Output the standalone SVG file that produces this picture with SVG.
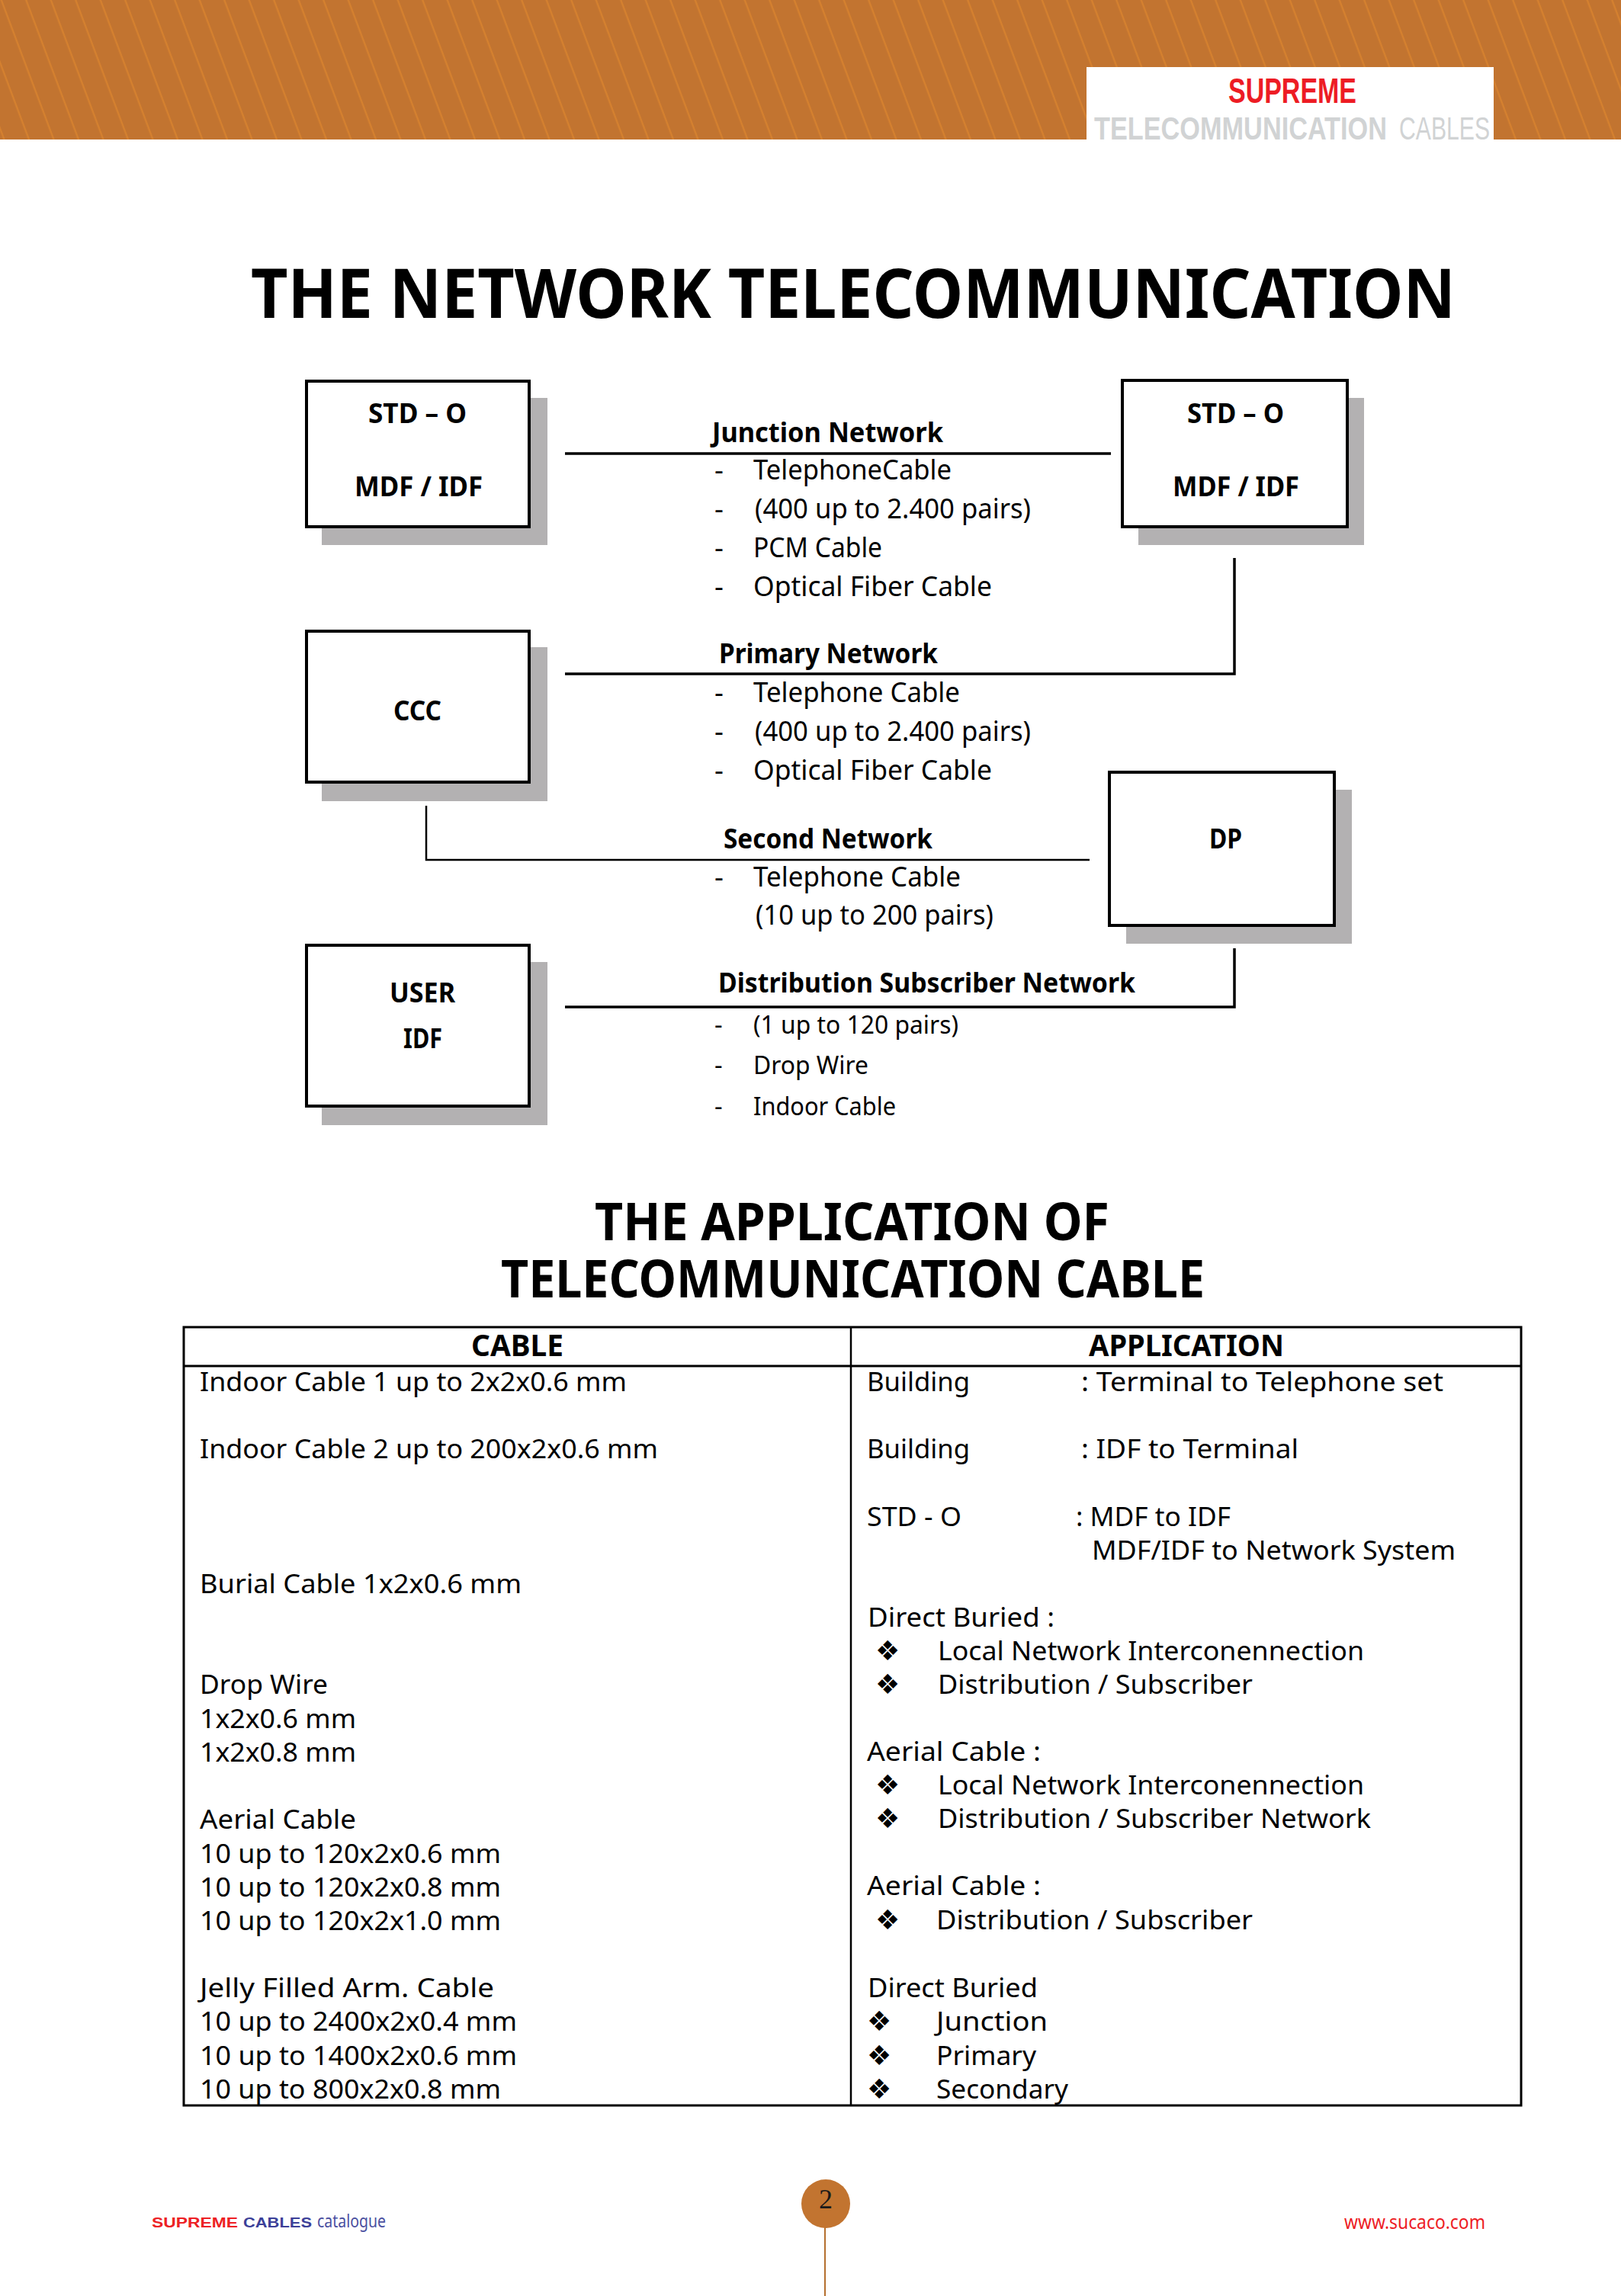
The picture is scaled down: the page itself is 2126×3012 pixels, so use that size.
<svg xmlns="http://www.w3.org/2000/svg" width="2126" height="3012" viewBox="0 0 2126 3012">
<style>
text{font-family:"Noto Sans","Open Sans","DejaVu Sans",sans-serif;fill:#000;white-space:pre}
.h{font-size:90px;font-weight:700}
.h2{font-size:68px;font-weight:700}
.b{font-size:36px;font-weight:700}
.t{font-size:37px}
.s{font-size:33px}
.tt{font-size:34px}
.c{font-size:40px;font-weight:700}
.bl{font-family:"DejaVu Sans",sans-serif;font-size:36px}
.hd{font-family:"Liberation Sans",sans-serif;font-size:43px;fill:#d1d3d4}
.box{fill:#fff;stroke:#000;stroke-width:4}
.sh{fill:#b3b1b2}
.ln{fill:none;stroke:#000;stroke-width:3.5}
.ln2{fill:none;stroke:#000;stroke-width:2.5}
.tb{fill:none;stroke:#000;stroke-width:3}
</style>
<defs>
<pattern id="st" width="32.5" height="183" patternUnits="userSpaceOnUse" patternTransform="skewX(20.6)">
<rect width="32.5" height="183" fill="#c27430"/><rect x="0.5" width="2.4" height="183" fill="#d5812f"/>
</pattern>
</defs>
<g id="header">
<rect width="2126" height="183" fill="url(#st)"/>
<rect x="1425" y="88" width="534" height="95" fill="#fff"/>
<text x="1611" y="135" textLength="168" lengthAdjust="spacingAndGlyphs" style="font-family:'Liberation Sans',sans-serif;font-size:46px;font-weight:700;fill:#ed1c24">SUPREME</text>
<text class="hd" x="1435" y="183" textLength="384" lengthAdjust="spacingAndGlyphs" style="font-weight:700">TELECOMMUNICATION</text>
<text class="hd" x="1835" y="183" textLength="119" lengthAdjust="spacingAndGlyphs">CABLES</text>
</g>
<text class="h" x="329" y="417" textLength="1580" lengthAdjust="spacingAndGlyphs">THE NETWORK TELECOMMUNICATION</text>
<g id="connectors">
<path class="ln" d="M741 595H1457"/>
<path class="ln" d="M741 884H1619V732"/>
<path class="ln2" d="M559 1057V1128H1429"/>
<path class="ln" d="M741 1321H1619V1244"/>
</g>
<g id="node-std-o-left">
<rect class="sh" x="422" y="522" width="296" height="193"/>
<rect class="box" x="402" y="500" width="292" height="191"/>
<text class="b" x="483" y="555" textLength="129" lengthAdjust="spacingAndGlyphs">STD – O</text>
<text class="b" x="465" y="651" textLength="168" lengthAdjust="spacingAndGlyphs">MDF / IDF</text>
</g>
<g id="node-std-o-right">
<rect class="sh" x="1493" y="522" width="296" height="193"/>
<rect class="box" x="1472" y="499" width="295" height="192"/>
<text class="b" x="1557" y="555" textLength="127" lengthAdjust="spacingAndGlyphs">STD – O</text>
<text class="b" x="1538" y="651" textLength="166" lengthAdjust="spacingAndGlyphs">MDF / IDF</text>
</g>
<g id="node-ccc">
<rect class="sh" x="422" y="849" width="296" height="202"/>
<rect class="box" x="402" y="828" width="292" height="198"/>
<text class="b" x="516" y="945" textLength="63" lengthAdjust="spacingAndGlyphs">CCC</text>
</g>
<g id="node-dp">
<rect class="sh" x="1477" y="1036" width="296" height="202"/>
<rect class="box" x="1455" y="1013" width="295" height="201"/>
<text class="b" x="1586" y="1113" textLength="43" lengthAdjust="spacingAndGlyphs">DP</text>
</g>
<g id="node-user-idf">
<rect class="sh" x="422" y="1262" width="296" height="214"/>
<rect class="box" x="402" y="1240" width="292" height="211"/>
<text class="b" x="511" y="1315" textLength="86" lengthAdjust="spacingAndGlyphs">USER</text>
<text class="b" x="529" y="1375" textLength="51" lengthAdjust="spacingAndGlyphs">IDF</text>
</g>
<g id="labels">
<text class="b" x="934" y="580" textLength="303" lengthAdjust="spacingAndGlyphs">Junction Network</text>
<text class="t" x="937" y="629">-</text><text class="t" x="988" y="629" textLength="260" lengthAdjust="spacingAndGlyphs">TelephoneCable</text>
<text class="t" x="937" y="680">-</text><text class="t" x="990" y="680" textLength="362" lengthAdjust="spacingAndGlyphs">(400 up to 2.400 pairs)</text>
<text class="t" x="937" y="731">-</text><text class="t" x="988" y="731" textLength="169" lengthAdjust="spacingAndGlyphs">PCM Cable</text>
<text class="t" x="937" y="782">-</text><text class="t" x="988" y="782" textLength="313" lengthAdjust="spacingAndGlyphs">Optical Fiber Cable</text>
<text class="b" x="943" y="870" textLength="287" lengthAdjust="spacingAndGlyphs">Primary Network</text>
<text class="t" x="937" y="921">-</text><text class="t" x="988" y="921" textLength="271" lengthAdjust="spacingAndGlyphs">Telephone Cable</text>
<text class="t" x="937" y="972">-</text><text class="t" x="990" y="972" textLength="362" lengthAdjust="spacingAndGlyphs">(400 up to 2.400 pairs)</text>
<text class="t" x="937" y="1023">-</text><text class="t" x="988" y="1023" textLength="313" lengthAdjust="spacingAndGlyphs">Optical Fiber Cable</text>
<text class="b" x="949" y="1113" textLength="274" lengthAdjust="spacingAndGlyphs">Second Network</text>
<text class="t" x="937" y="1163">-</text><text class="t" x="988" y="1163" textLength="272" lengthAdjust="spacingAndGlyphs">Telephone Cable</text>
<text class="t" x="991" y="1213" textLength="312" lengthAdjust="spacingAndGlyphs">(10 up to 200 pairs)</text>
<text class="b" x="942" y="1302" textLength="547" lengthAdjust="spacingAndGlyphs">Distribution Subscriber Network</text>
<text class="s" x="937" y="1356">-</text><text class="s" x="988" y="1356" textLength="269" lengthAdjust="spacingAndGlyphs">(1 up to 120 pairs)</text>
<text class="s" x="937" y="1409">-</text><text class="s" x="988" y="1409" textLength="151" lengthAdjust="spacingAndGlyphs">Drop Wire</text>
<text class="s" x="937" y="1463">-</text><text class="s" x="988" y="1463" textLength="187" lengthAdjust="spacingAndGlyphs">Indoor Cable</text>
</g>
<text class="h2" x="780" y="1627" textLength="675" lengthAdjust="spacingAndGlyphs">THE APPLICATION OF</text>
<text class="h2" x="657" y="1702" textLength="923" lengthAdjust="spacingAndGlyphs">TELECOMMUNICATION CABLE</text>
<g id="table">
<rect class="tb" x="241" y="1741" width="1754" height="1021"/>
<path class="tb" d="M241 1792H1995"/>
<path class="ln2" d="M1116 1741V2762"/>
<text class="c" x="618" y="1779" textLength="121" lengthAdjust="spacingAndGlyphs">CABLE</text>
<text class="c" x="1428" y="1779" textLength="256" lengthAdjust="spacingAndGlyphs">APPLICATION</text>
<g id="col-cable">
<text class="tt" x="262" y="1825" textLength="560" lengthAdjust="spacingAndGlyphs">Indoor Cable 1 up to 2x2x0.6 mm</text>
<text class="tt" x="262" y="1913" textLength="601" lengthAdjust="spacingAndGlyphs">Indoor Cable 2 up to 200x2x0.6 mm</text>
<text class="tt" x="262" y="2090" textLength="422" lengthAdjust="spacingAndGlyphs">Burial Cable 1x2x0.6 mm</text>
<text class="tt" x="262" y="2222" textLength="168" lengthAdjust="spacingAndGlyphs">Drop Wire</text>
<text class="tt" x="262" y="2267" textLength="205" lengthAdjust="spacingAndGlyphs">1x2x0.6 mm</text>
<text class="tt" x="262" y="2311" textLength="205" lengthAdjust="spacingAndGlyphs">1x2x0.8 mm</text>
<text class="tt" x="262" y="2399" textLength="205" lengthAdjust="spacingAndGlyphs">Aerial Cable</text>
<text class="tt" x="262" y="2444" textLength="395" lengthAdjust="spacingAndGlyphs">10 up to 120x2x0.6 mm</text>
<text class="tt" x="262" y="2488" textLength="395" lengthAdjust="spacingAndGlyphs">10 up to 120x2x0.8 mm</text>
<text class="tt" x="262" y="2532" textLength="395" lengthAdjust="spacingAndGlyphs">10 up to 120x2x1.0 mm</text>
<text class="tt" x="262" y="2620" textLength="386" lengthAdjust="spacingAndGlyphs">Jelly Filled Arm. Cable</text>
<text class="tt" x="262" y="2664" textLength="416" lengthAdjust="spacingAndGlyphs">10 up to 2400x2x0.4 mm</text>
<text class="tt" x="262" y="2709" textLength="416" lengthAdjust="spacingAndGlyphs">10 up to 1400x2x0.6 mm</text>
<text class="tt" x="262" y="2753" textLength="395" lengthAdjust="spacingAndGlyphs">10 up to 800x2x0.8 mm</text>
</g>
<g id="col-application">
<text class="tt" x="1137" y="1825" textLength="135" lengthAdjust="spacingAndGlyphs">Building</text>
<text class="tt" x="1418" y="1825" textLength="475" lengthAdjust="spacingAndGlyphs">: Terminal to Telephone set</text>
<text class="tt" x="1137" y="1913" textLength="135" lengthAdjust="spacingAndGlyphs">Building</text>
<text class="tt" x="1418" y="1913" textLength="285" lengthAdjust="spacingAndGlyphs">: IDF to Terminal</text>
<text class="tt" x="1137" y="2002" textLength="124" lengthAdjust="spacingAndGlyphs">STD - O</text>
<text class="tt" x="1411" y="2002" textLength="203" lengthAdjust="spacingAndGlyphs">: MDF to IDF</text>
<text class="tt" x="1432" y="2046" textLength="477" lengthAdjust="spacingAndGlyphs">MDF/IDF to Network System</text>
<text class="tt" x="1138" y="2134" textLength="245" lengthAdjust="spacingAndGlyphs">Direct Buried :</text>
<text class="bl" x="1148" y="2178">❖</text><text class="tt" x="1230" y="2178" textLength="559" lengthAdjust="spacingAndGlyphs">Local Network Interconennection</text>
<text class="bl" x="1148" y="2222">❖</text><text class="tt" x="1230" y="2222" textLength="413" lengthAdjust="spacingAndGlyphs">Distribution / Subscriber</text>
<text class="tt" x="1137" y="2310" textLength="228" lengthAdjust="spacingAndGlyphs">Aerial Cable :</text>
<text class="bl" x="1148" y="2354">❖</text><text class="tt" x="1230" y="2354" textLength="559" lengthAdjust="spacingAndGlyphs">Local Network Interconennection</text>
<text class="bl" x="1148" y="2398">❖</text><text class="tt" x="1230" y="2398" textLength="568" lengthAdjust="spacingAndGlyphs">Distribution / Subscriber Network</text>
<text class="tt" x="1137" y="2486" textLength="228" lengthAdjust="spacingAndGlyphs">Aerial Cable :</text>
<text class="bl" x="1148" y="2531">❖</text><text class="tt" x="1228" y="2531" textLength="415" lengthAdjust="spacingAndGlyphs">Distribution / Subscriber</text>
<text class="tt" x="1138" y="2620" textLength="223" lengthAdjust="spacingAndGlyphs">Direct Buried</text>
<text class="bl" x="1137" y="2664">❖</text><text class="tt" x="1228" y="2664" textLength="146" lengthAdjust="spacingAndGlyphs">Junction</text>
<text class="bl" x="1137" y="2709">❖</text><text class="tt" x="1228" y="2709" textLength="131" lengthAdjust="spacingAndGlyphs">Primary</text>
<text class="bl" x="1137" y="2753">❖</text><text class="tt" x="1228" y="2753" textLength="173" lengthAdjust="spacingAndGlyphs">Secondary</text>
</g>
</g>
<g id="footer">
<text x="199" y="2922" textLength="113" lengthAdjust="spacingAndGlyphs" style="font-family:'Liberation Sans',sans-serif;font-size:19px;font-weight:700;fill:#ed2024">SUPREME</text>
<text x="319" y="2922" textLength="90" lengthAdjust="spacingAndGlyphs" style="font-family:'Liberation Sans',sans-serif;font-size:19px;font-weight:700;fill:#3b3f98">CABLES</text>
<text x="416" y="2922" textLength="90" lengthAdjust="spacingAndGlyphs" style="font-size:24px;fill:#4a4f9f">catalogue</text>
<path d="M1082 2920V3012" stroke="#b5702f" stroke-width="2" fill="none"/>
<circle cx="1083" cy="2891" r="32" fill="#c27430"/>
<text x="1074" y="2897" textLength="18" lengthAdjust="spacingAndGlyphs" style="font-family:'Liberation Serif',serif;font-size:36px;fill:#1a1a1a">2</text>
<text x="1763" y="2924" textLength="185" lengthAdjust="spacingAndGlyphs" style="font-size:26px;fill:#ed1c24">www.sucaco.com</text>
</g>
</svg>
